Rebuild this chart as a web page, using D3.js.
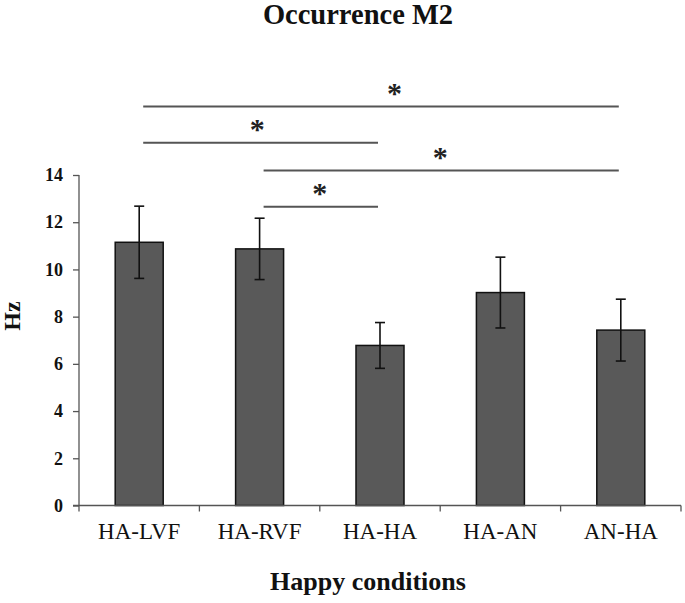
<!DOCTYPE html>
<html><head><meta charset="utf-8">
<script src="https://cdn.jsdelivr.net/npm/d3@7"></script>
<style>body{margin:0;background:#fff}svg{display:block}</style>
</head><body>
<svg id="chart" width="685" height="603"></svg>
<script>
const categories = ["HA-LVF","HA-RVF","HA-HA","HA-AN","AN-HA"];
const means = [11.15, 10.87, 6.78, 9.02, 7.43];
const errors = [1.53, 1.30, 0.97, 1.50, 1.31];
const yTicks = [0,2,4,6,8,10,12,14];
// significance comparisons: from, to, level (Hz), star position along the line
const compFrom = ["HA-LVF","HA-LVF","HA-RVF","HA-RVF"];
const compTo   = ["AN-HA","HA-HA","AN-HA","HA-HA"];
const compLevel = [16.9, 15.37, 14.19, 12.65];
const compStarAt = [0.53, 0.49, 0.5, 0.5];
const title = "Occurrence M2";
const xTitle = "Happy conditions";
const yTitle = "Hz";

(function(){
const FF = '"Liberation Serif", "DejaVu Serif", "Noto Serif", serif';
const svg = d3.select("#chart");
const pLeft = 79, pRight = 681, pTop = 175, pBottom = 505.5;
const xb = d3.scaleBand().domain(categories).range([pLeft, pRight]);
const y = d3.scaleLinear().domain([0, 14]).range([pBottom, pTop]);
const cx = c => xb(c) + xb.bandwidth()/2;

svg.selectAll("rect.bar").data(categories).enter().append("rect")
  .attr("x", c => cx(c) - 24).attr("width", 48)
  .attr("y", (c,i) => y(means[i])).attr("height", (c,i) => y(0) - y(means[i]))
  .attr("fill", "#595959").attr("stroke", "#111").attr("stroke-width", 1.5);

const eb = svg.selectAll("g.err").data(categories).enter().append("g").attr("stroke","#111").attr("stroke-width",1.6);
eb.append("line").attr("x1", c=>cx(c)).attr("x2", c=>cx(c))
  .attr("y1",(c,i)=>y(means[i]+errors[i])).attr("y2",(c,i)=>y(means[i]-errors[i]));
eb.append("line").attr("x1", c=>cx(c)-5).attr("x2", c=>cx(c)+5)
  .attr("y1",(c,i)=>y(means[i]+errors[i])).attr("y2",(c,i)=>y(means[i]+errors[i]));
eb.append("line").attr("x1", c=>cx(c)-5).attr("x2", c=>cx(c)+5)
  .attr("y1",(c,i)=>y(means[i]-errors[i])).attr("y2",(c,i)=>y(means[i]-errors[i]));

const yAxis = svg.append("g").attr("transform", `translate(${pLeft},0)`)
  .call(d3.axisLeft(y).tickValues(yTicks).tickSize(6).tickPadding(10).tickFormat(d3.format("d")));
yAxis.attr("font-family", FF).attr("font-size", 18).attr("font-weight","bold");
yAxis.selectAll("path,line").attr("stroke","#555").attr("stroke-width",1.3);
yAxis.select("path.domain").attr("d", `M0,${pTop}V${pBottom}`);
yAxis.selectAll("text").style("font-family", FF).attr("fill","#111");

const xAxis = svg.append("g").attr("transform", `translate(0,${pBottom})`)
  .call(d3.axisBottom(xb).tickSize(0).tickPadding(17));
xAxis.attr("font-family", FF).attr("font-size", 23);
xAxis.select("path.domain").attr("d", `M${pLeft-6},0H${pRight}`).attr("stroke","#555").attr("stroke-width",1.3);
xAxis.selectAll("text").style("font-family", FF).attr("fill","#111");
svg.append("g").selectAll("line").data(categories.concat(["_end"])).enter().append("line")
  .attr("x1",(c,i)=> i<categories.length ? xb(c) : pRight).attr("x2",(c,i)=> i<categories.length ? xb(c) : pRight)
  .attr("y1", pBottom).attr("y2", pBottom+6).attr("stroke","#555").attr("stroke-width",1.3);

const sig = svg.selectAll("g.sig").data(compLevel).enter().append("g");
sig.append("line")
  .attr("x1",(d,i)=>cx(compFrom[i])+4).attr("x2",(d,i)=>cx(compTo[i])-2)
  .attr("y1",d=>y(d)).attr("y2",d=>y(d)).attr("stroke","#555").attr("stroke-width",2);
sig.append("text")
  .attr("x",(d,i)=>{const a=cx(compFrom[i]), b=cx(compTo[i]); return a+(b-a)*compStarAt[i];})
  .attr("y",d=>y(d)-4).attr("text-anchor","middle")
  .style("font-family", FF).style("font-weight","bold").style("font-size","30px").attr("fill","#222").text("*");

svg.append("text").attr("x",358).attr("y",24).attr("text-anchor","middle")
  .style("font-family", FF).style("font-weight","bold").style("font-size","28.5px").attr("fill","#111").text(title);
svg.append("text").attr("x",368).attr("y",590).attr("text-anchor","middle")
  .style("font-family", FF).style("font-weight","bold").style("font-size","26px").attr("fill","#111").text(xTitle);
svg.append("text").attr("transform","translate(20,316) rotate(-90)").attr("text-anchor","middle")
  .style("font-family", FF).style("font-weight","bold").style("font-size","24px").attr("fill","#111").text(yTitle);
})();
</script>
</body></html>
